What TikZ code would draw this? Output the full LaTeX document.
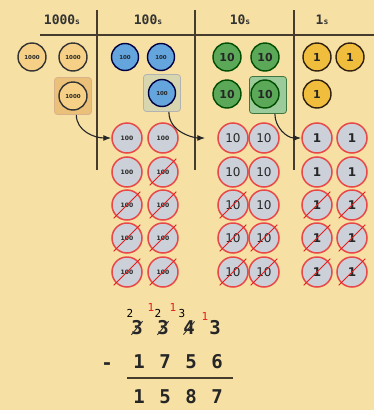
\documentclass[tikz,border=0pt]{standalone}
\usepackage{fontspec}
\setmainfont{DejaVu Sans}
\setsansfont{DejaVu Sans}
\newfontfamily\monofont{DejaVu Sans Mono}
\usetikzlibrary{arrows.meta}

\definecolor{paper}{RGB}{246,224,164}
\definecolor{rulecol}{RGB}{70,60,45}
\definecolor{thoufill}{RGB}{246,208,135}
\definecolor{hundfill}{RGB}{100,165,222}
\definecolor{tenfill}{RGB}{90,168,88}
\definecolor{onefill}{RGB}{240,190,60}
\definecolor{newfill}{RGB}{204,208,216}
\definecolor{newline}{RGB}{232,72,72}
\definecolor{borrow}{RGB}{228,30,30}

\begin{document}
\begin{tikzpicture}[
    x=1pt, y=-1pt,
    >=Latex,
    coin/.style={circle, minimum size=28pt, inner sep=0pt, line width=1.4pt,
                 draw=black!80, text=black!85},
    thou/.style={coin, fill=thoufill, font=\sffamily\bfseries\fontsize{5.5}{6}\selectfont},
    hund/.style={coin, minimum size=27pt, fill=hundfill, draw=black!75!blue,
                 font=\sffamily\bfseries\fontsize{5.5}{6}\selectfont},
    ten/.style={coin, fill=tenfill, draw=black!70!green, font=\sffamily\bfseries\fontsize{11}{12}\selectfont},
    one/.style={coin, fill=onefill, draw=black!75!brown, font=\sffamily\bfseries\fontsize{11}{12}\selectfont},
    newcoin/.style={coin, minimum size=30pt, fill=newfill, draw=newline, line width=1.5pt},
    pick/.style={rounded corners=3pt, minimum size=37pt, line width=0.8pt},
    strike/.style={draw=borrow, line width=1pt, shorten <=-3pt, shorten >=-3pt},
    carry/.style={->, line width=1.1pt, draw=black!85},
    rulel/.style={draw=rulecol, line width=1.6pt},
    head/.style={font=\monofont\bfseries\fontsize{13}{14}\selectfont, text=black!80},
    digit/.style={font=\monofont\bfseries\fontsize{19}{20}\selectfont, text=black!85, inner sep=1pt},
    small/.style={font=\monofont\fontsize{11}{12}\selectfont, inner sep=0pt},
    slash/.style={draw=black!80, line width=0.9pt, shorten <=2pt, shorten >=2pt}
]

\fill[paper] (0,0) rectangle (374,410);
\useasboundingbox (0,0) rectangle (374,410);

\node[head] (hk) at (62,20) {1000{\fontsize{8}{9}\selectfont s}};
\node[head] (hh) at (148,20) {100{\fontsize{8}{9}\selectfont s}};
\node[head] (ht) at (240,20) {10{\fontsize{8}{9}\selectfont s}};
\node[head] (ho) at (322,20) {1{\fontsize{8}{9}\selectfont s}};

\draw[rulel] (40,35) -- (374,35);
\draw[rulel] (97,10) -- (97,170);
\draw[rulel] (195,10) -- (195,170);
\draw[rulel] (294,10) -- (294,170);

\node[pick, fill=thoufill!80!brown, draw=brown!60] (kpick) at (73,96) {};
\node[pick, fill=gray!45!olive!35, draw=gray!60] (hpick) at (162,93) {};
\node[pick, fill=tenfill!60!white, draw=tenfill!70!black] (tpick) at (268,95) {};

\node[thou] (k1) at (32,57) {1000};
\node[thou] (k2) at (73,57) {1000};
\node[thou] (k3) at (73,96) {1000};

\node[hund] (h1) at (125,57) {100};
\node[hund] (h2) at (161,57) {100};
\node[hund] (h3) at (162,93) {100};

\node[ten] (t1) at (227,57) {10};
\node[ten] (t2) at (265,57) {10};
\node[ten] (t3) at (227,94) {10};
\node[ten] (t4) at (265,94) {10};

\node[one] (o1) at (317,57) {1};
\node[one] (o2) at (350,57) {1};
\node[one] (o3) at (317,94) {1};

\foreach \r/\y in {1/138,2/172,3/205,4/238,5/272} {
    \node[newcoin, font=\sffamily\bfseries\fontsize{6}{7}\selectfont] (ha\r) at (127,\y) {100};
    \node[newcoin, font=\sffamily\bfseries\fontsize{6}{7}\selectfont] (hb\r) at (163,\y) {100};
    \node[newcoin, font=\sffamily\fontsize{12}{13}\selectfont] (ta\r) at (233,\y) {10};
    \node[newcoin, font=\sffamily\fontsize{12}{13}\selectfont] (tb\r) at (264,\y) {10};
    \node[newcoin, font=\sffamily\bfseries\fontsize{12}{13}\selectfont] (oa\r) at (317,\y) {1};
    \node[newcoin, font=\sffamily\bfseries\fontsize{12}{13}\selectfont] (ob\r) at (352,\y) {1};
}

\foreach \n in {hb2,ha3,hb3,ha4,hb4,ha5,hb5,ta3,ta4,tb4,ta5,tb5,oa3,ob3,oa4,ob4,oa5,ob5}
    \draw[strike] (\n.225) -- (\n.45);

\draw[carry] (kpick.-80) to[out=-90,in=180] (ha1.west);
\draw[carry, shorten >=12pt] (hpick.-70) to[out=-90,in=180] (ta1.west);
\draw[carry] (tpick.-70) to[out=-90,in=180] (oa1.west);

\foreach \d [count=\i] in {3,3,4,3}
    \node[digit] (a\i) at (111+26*\i,328) {\d};
\foreach \d [count=\i] in {1,7,5,6}
    \node[digit] (b\i) at (113+26*\i,362) {\d};
\foreach \d [count=\i] in {1,5,8,7}
    \node[digit] (c\i) at (113+26*\i,397) {\d};
\node[digit] (minus) at (107,366) {-};

\foreach \i in {1,2,3}
    \draw[slash] (a\i.south west) -- (a\i.north east);

\node[small] (n1) at (130,313) {2};
\node[small, text=borrow] (r1) at (151,307) {1};
\node[small] (n2) at (158,313) {2};
\node[small, text=borrow] (r2) at (173,307) {1};
\node[small] (n3) at (182,313) {3};
\node[small, text=borrow] (r3) at (205,316) {1};

\draw[rulel] (127,378) -- (233,378);

\end{tikzpicture}
\end{document}
